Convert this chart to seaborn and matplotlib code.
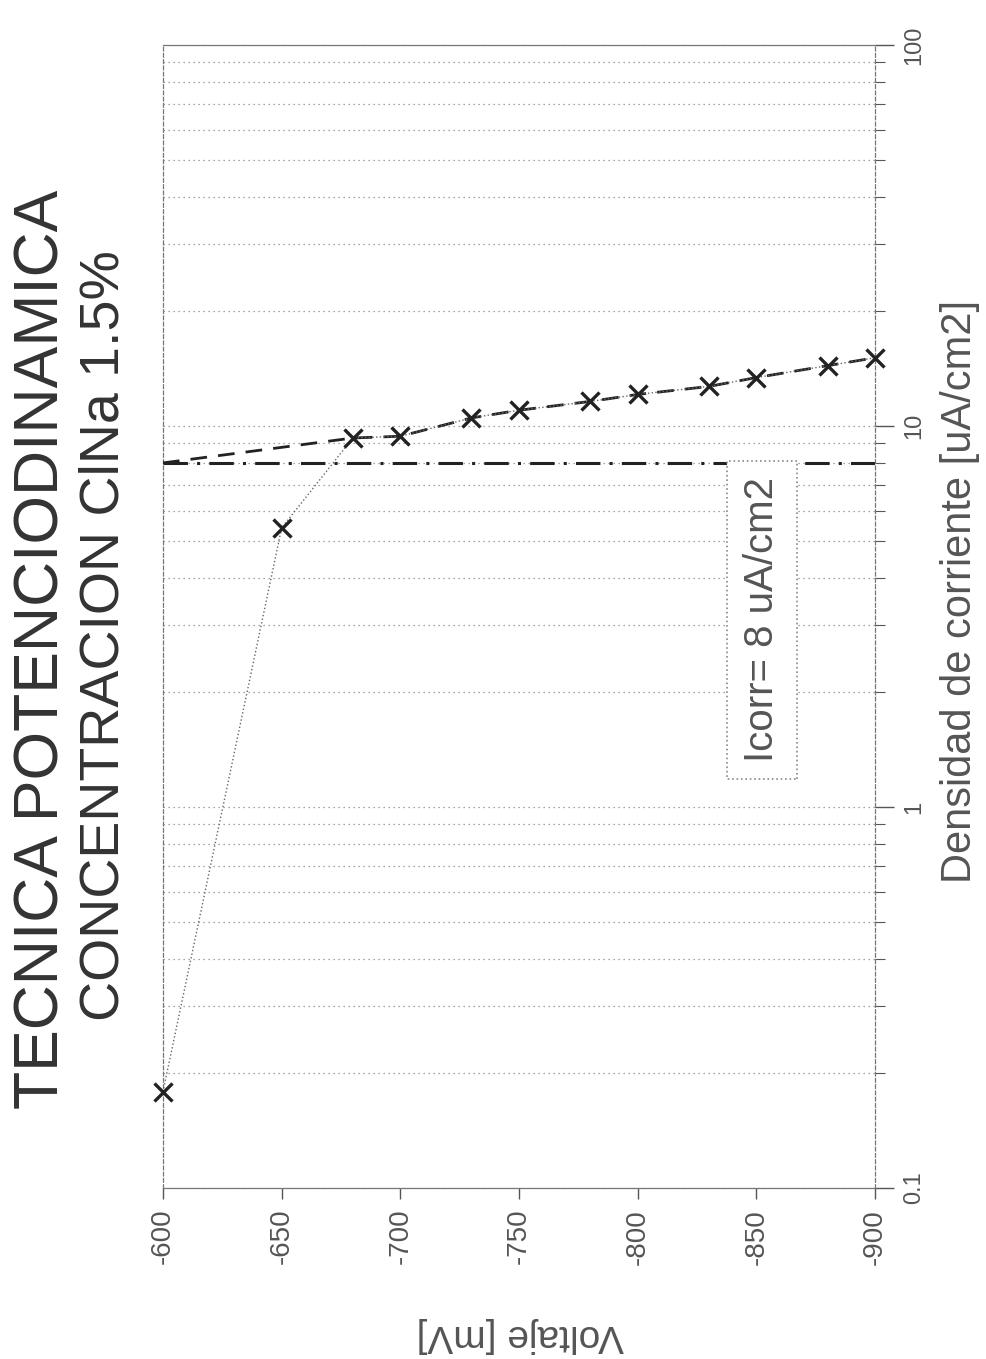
import matplotlib
matplotlib.use("Agg")
import matplotlib.pyplot as plt
import seaborn as sns
from matplotlib.ticker import FixedLocator, LogLocator, NullFormatter

# valores (voltaje en mV, densidad en uA/cm2)
voltaje = [-600, -650, -680, -700, -730, -750, -780, -800, -830, -850, -880, -900]
densidad = [0.179, 5.4, 9.3, 9.4, 10.5, 11.0, 11.6, 12.1, 12.7, 13.4, 14.4, 15.1]

# recta de Tafel extrapolada hasta -600 mV
icorr = 8.0
tafel_voltaje = [-600] + voltaje[2:]
tafel_densidad = [icorr] + densidad[2:]

x_ticks = [-600, -650, -700, -750, -800, -850, -900]
x_labels = ["-600", "-650", "-700", "-750", "-800", "-850", "-900"]
y_ticks = [0.1, 1, 10, 100]
y_labels = ["0.1", "1", "10", "100"]

sns.set_theme(style="white")
plt.rcParams["font.family"] = ["Liberation Sans", "DejaVu Sans"]

GRAY = "#555555"
DARK = "#222222"

fig = plt.figure(figsize=(9.87, 13.59), dpi=100)
ax = fig.add_axes([0.1651, 0.1258, 0.7214, 0.8411])

ax.set_yscale("log")

# curva medida (puntos unidos con linea punteada)
sns.lineplot(x=voltaje, y=densidad, sort=False, errorbar=None, ax=ax,
             color="#666666", lw=1, linestyle=":", marker="x",
             markersize=13, markeredgewidth=2.4, markeredgecolor=DARK,
             zorder=4, clip_on=False)

# recta de Tafel (trazos largos)
sns.lineplot(x=tafel_voltaje, y=tafel_densidad, sort=False, errorbar=None, ax=ax,
             color=DARK, lw=2, linestyle=(0, (6, 4)), zorder=3)

# linea de Icorr
ax.axhline(icorr, color=DARK, lw=2.2, linestyle=(0, (8, 3, 1, 3)), zorder=2)

ax.set_xlim(-600, -900)
ax.set_ylim(0.1, 100)

# rejilla horizontal punteada en cada decada y subdivision
ax.yaxis.set_minor_locator(LogLocator(base=10, subs=range(2, 10)))
ax.yaxis.set_minor_formatter(NullFormatter())
ax.yaxis.grid(True, which="both", linestyle=(0, (1, 3)), color="#888888", lw=0.9)
ax.xaxis.grid(False)

ax.yaxis.tick_right()
ax.yaxis.set_major_locator(FixedLocator(y_ticks))
ax.set_yticklabels(y_labels, rotation=90, va="center")
ax.tick_params(axis="y", which="major", direction="out", length=14, width=1,
               colors=GRAY, labelsize=17, pad=6, right=True, left=False)
ax.tick_params(axis="y", which="minor", direction="out", length=7, width=0.8,
               colors=GRAY, right=True, left=False)

ax.set_xticks(x_ticks)
ax.set_xticklabels(x_labels, rotation=90)
ax.tick_params(axis="x", direction="out", length=8, width=1, colors=GRAY,
               labelsize=20, pad=7, bottom=True)

ax.set_xlabel("")
ax.set_ylabel("")

for side, sp in ax.spines.items():
    sp.set_visible(True)
    sp.set_color("#777777")
    sp.set_linewidth(0.9)
    if side in ("left", "right"):
        sp.set_linestyle((0, (3, 2)))

# recuadro de Icorr
ax.text(0.841, 0.497, "Icorr= 8 uA/cm2", transform=ax.transAxes, rotation=90,
        ha="center", va="center", fontsize=29, color=GRAY, zorder=6,
        bbox=dict(boxstyle="square,pad=0.4", fc="white", ec="#888888",
                  ls=":", lw=1.2))

# textos del grafico girado
fig.text(0.043, 0.522, "TECNICA POTENCIODINAMICA", rotation=90,
         ha="center", va="center", fontsize=45, color="#333333")
fig.text(0.106, 0.532, "CONCENTRACION ClNa 1.5%", rotation=90,
         ha="center", va="center", fontsize=40, color="#333333")
fig.text(0.973, 0.565, "Densidad de corriente [uA/cm2]", rotation=90,
         ha="center", va="center", fontsize=30, color=GRAY)
fig.text(0.527, 0.018, "Voltaje [mV]", rotation=180,
         ha="center", va="center", fontsize=28, color=GRAY)

fig.savefig("out.png", dpi=100)
